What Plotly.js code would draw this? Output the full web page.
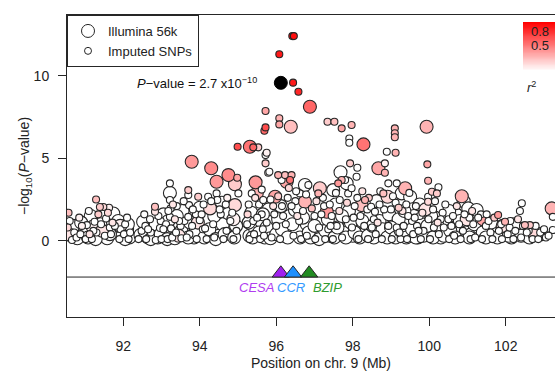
<!DOCTYPE html>
<html><head><meta charset="utf-8">
<script src="https://cdn.plot.ly/plotly-3.0.1.min.js"></script>
<style>html,body{margin:0;padding:0;overflow:hidden;background:#fff;}</style>
</head><body><div id="chart"></div>
<script>
// [position (Mb), -log10(P), r2]
const illumina = [
[90.62,0.35,0.1],[90.80,0.15,0],[90.98,0.55,0],[91.08,0.2,0],[91.15,1.5,0],[91.20,0.85,0.05],[91.33,0.3,0],[91.45,0.6,0.1],[91.58,0.15,0],[91.74,1.65,0],[91.80,0.5,0],[91.87,1.2,0],[91.98,0.3,0],[92.10,0.7,0],[92.16,0.2,0],
[92.45,0.35,0],[92.52,1.15,0],[92.65,0.2,0],[92.78,0.7,0],[92.90,0.2,0],[93.05,1.6,0],[93.10,0.4,0],[93.22,2.9,0],[93.30,0.9,0],[93.45,0.3,0.1],[93.55,1.8,0],[93.62,0.6,0],[93.79,4.79,0.4],[93.85,0.2,0],[93.95,1.1,0.1],[94.05,0.5,0],[94.20,1.3,0],[94.27,1.96,0.15],[94.30,4.39,0.45],[94.44,3.58,0.4],[94.50,0.3,0],[94.60,1.0,0],[94.75,3.98,0.45],[94.75,1.66,0],[94.85,0.4,0],[94.92,3.42,0.2],[94.92,2.16,0.15],[94.95,0.9,0],
[95.30,0.3,0],[95.31,5.7,0.55],[95.35,1.7,0],[95.46,3.54,0.4],[95.49,2.87,0.3],[95.45,0.7,0],[95.60,1.2,0],[95.70,0.2,0],[95.80,1.9,0],[95.97,2.67,0.35],[95.90,0.6,0],[96.05,1.3,0],[96.20,0.3,0],[96.27,3.58,0.35],[96.38,6.91,0.25],[96.35,1.5,0],[96.49,1.86,0],[96.55,0.6,0],[96.75,3.38,0],[96.75,2.36,0.3],[96.80,1.0,0],[96.88,8.12,0.6],[96.90,0.2,0],
[97.05,0.4,0],[97.14,3.18,0.2],[97.20,1.2,0],[97.32,1.76,0.4],[97.40,0.3,0],[97.49,3.07,0],[97.55,2.2,0],[97.62,1.25,0],[97.68,4.15,0],[97.75,0.5,0],[97.84,3.48,0],[97.90,1.8,0],[98.00,0.3,0],[98.10,1.1,0],[98.23,2.16,0.25],[98.28,5.84,0.55],[98.35,0.6,0],[98.45,1.5,0],[98.55,0.2,0],[98.67,4.39,0.35],[98.70,1.2,0],[98.85,0.4,0],[98.91,2.67,0.15],[98.95,1.6,0],
[99.05,0.3,0],[99.20,1.3,0],[99.28,2.87,0],[99.37,3.18,0.3],[99.45,0.5,0],[99.50,2.67,0],[99.60,1.5,0],[99.70,0.2,0],[99.80,1.0,0],[99.93,6.91,0.3],[99.90,1.9,0.1],[100.00,0.4,0],[100.15,1.4,0],[100.30,0.2,0],[100.45,1.0,0],[100.60,0.3,0],[100.70,1.6,0],[100.85,2.7,0.3],[100.90,2.4,0],[100.95,0.5,0],[101.02,1.96,0],
[101.10,0.4,0],[101.24,1.86,0],[101.30,0.8,0],[101.41,1.3,0.35],[101.55,0.3,0],[101.70,0.9,0],[101.85,0.3,0],[102.00,0.7,0],[102.15,0.2,0],[102.30,0.5,0],[102.55,0.3,0],[102.76,0.35,0.15],[102.95,0.4,0],[103.20,1.96,0.3],
[90.70,0.9,0],[90.90,1.1,0],[91.28,0.1,0],[91.40,1.0,0],[91.65,0.4,0],[91.92,0.9,0.05],[92.05,0.1,0],[92.12,1.0,0],
[92.58,0.5,0],[92.72,0.1,0],[92.85,1.0,0],[92.98,0.4,0],[93.15,0.1,0],[93.18,1.2,0],[93.35,0.15,0],[93.40,1.5,0],[93.52,0.6,0],[93.70,0.2,0],[93.75,1.1,0],[93.88,0.5,0],[94.00,2.0,0],[94.12,0.2,0],[94.25,0.7,0],[94.38,1.5,0],[94.42,0.1,0],[94.58,2.3,0],[94.65,0.4,0],[94.88,1.3,0.05],[94.90,0.2,0],
[95.28,1.1,0],[95.38,0.2,0],[95.55,0.5,0],[95.65,1.6,0],[95.75,0.8,0],[95.85,0.15,0],[96.00,0.4,0],[96.12,2.1,0],[96.15,0.7,0],[96.30,0.2,0],[96.42,1.0,0],[96.58,2.0,0],[96.62,0.2,0],[96.70,1.4,0],[96.85,0.5,0],
[97.00,0.9,0],[97.12,0.1,0],[97.28,0.6,0],[97.35,1.3,0],[97.52,0.2,0],[97.60,0.8,0],[97.72,1.5,0],[97.82,0.2,0],[97.95,1.1,0],[98.05,0.5,0],[98.18,0.2,0],[98.25,1.2,0],[98.40,0.3,0],[98.52,0.9,0],[98.62,2.4,0],[98.78,0.7,0],[98.90,0.2,0],
[99.00,0.8,0],[99.12,0.2,0],[99.25,0.6,0],[99.35,1.8,0],[99.40,0.2,0],[99.55,0.7,0],[99.65,0.2,0],[99.75,2.2,0],[99.85,0.3,0],[99.95,0.9,0],[100.05,1.5,0],[100.10,0.2,0],[100.22,0.9,0],[100.38,0.3,0],[100.52,1.8,0],[100.55,0.6,0],[100.68,0.2,0],[100.80,1.2,0],[100.98,1.3,0.1],
[101.05,0.2,0],[101.18,1.0,0],[101.40,0.5,0],[101.48,0.2,0],[101.62,1.1,0],[101.78,0.2,0],[101.92,0.9,0.1],[102.08,0.3,0],[102.22,1.0,0],[102.40,0.3,0],[102.62,0.2,0],[102.85,0.4,0]
];
const imputed = [
[90.55,0.8,0.15],[90.57,1.7,0.25],[90.66,0.05,0],[90.72,0.5,0],[90.78,0.2,0],[90.88,0.4,0],[90.92,0.9,0.05],[91.02,0.1,0],[91.05,0.95,0],[91.12,0.4,0.1],[91.18,0.1,0],[91.25,1.15,0],[91.29,2.5,0.25],[91.30,0.5,0],[91.35,1.6,0.2],[91.39,2.05,0.2],[91.42,1.0,0],[91.48,2.05,0.15],[91.52,0.3,0],[91.55,1.35,0],[91.63,2.0,0.05],[91.65,0.8,0],[91.68,0.4,0],[91.72,1.1,0.1],[91.90,0.1,0],[91.93,0.7,0],[92.02,0.4,0],[92.05,1.0,0],[92.14,0.1,0],[92.18,0.5,0],
[92.40,0.1,0],[92.48,0.6,0],[92.58,0.9,0],[92.60,0.1,0],[92.70,1.3,0],[92.72,0.5,0],[92.83,2.06,0.25],[92.83,1.76,0.1],[92.85,0.05,0],[92.96,0.77,0],[92.98,1.2,0],[93.00,0.1,0],[93.12,1.0,0],[93.16,0.1,0],[93.22,3.48,0],[93.22,2.47,0],[93.24,1.96,0],[93.22,1.45,0],[93.25,0.75,0],[93.28,0.2,0],[93.35,1.3,0.1],[93.38,0.5,0],[93.40,2.1,0],[93.50,0.9,0],[93.52,0.15,0],[93.60,1.2,0],[93.70,3.07,0.2],[93.70,2.77,0],[93.72,2.16,0],[93.70,1.45,0],[93.73,0.4,0],[93.80,0.9,0],[93.90,1.6,0],[93.92,0.1,0],[93.96,2.67,0.2],[94.00,1.25,0],[94.08,0.7,0],[94.10,2.2,0],[94.14,0.75,0],[94.18,0.1,0],[94.22,2.67,0],[94.35,1.0,0],[94.38,0.2,0],[94.44,2.87,0],[94.46,2.47,0],[94.55,1.6,0],[94.62,0.1,0],[94.68,2.2,0],[94.70,0.6,0],[94.80,1.2,0],[94.88,0.1,0],[94.98,3.82,0.35],[95.01,2.87,0],[94.96,0.6,0],
[94.99,5.7,0.7],[95.24,1.0,0],[95.28,2.2,0],[95.30,0.1,0],[95.36,2.87,0],[95.40,5.66,0.6],[95.40,1.2,0],[95.42,0.4,0],[95.53,5.66,0.2],[95.55,2.2,0],[95.58,0.1,0],[95.62,1.6,0],[95.66,2.47,0],[95.65,0.7,0],[95.69,6.67,0.6],[95.72,6.87,0.7],[95.72,7.86,0.35],[95.72,5.19,0],[95.72,4.69,0.2],[95.75,5.33,0.05],[95.79,4.12,0],[95.82,4.18,0],[95.75,1.1,0],[95.85,2.5,0],[95.88,0.2,0],[95.95,1.6,0],[96.00,0.9,0],[96.05,3.98,0.3],[96.08,7.42,0.3],[96.08,7.05,0.35],[96.08,11.3,0.9],[96.10,0.1,0],[96.14,3.68,0],[96.15,2.1,0],[96.23,3.98,0.25],[96.25,1.0,0],[96.30,2.6,0],[96.36,3.68,0.55],[96.40,3.98,0.3],[96.42,12.4,0.95],[96.46,12.4,0.95],[96.44,9.58,0.9],[96.45,0.3,0],[96.50,2.4,0],[96.58,9.03,0.85],[96.60,1.2,0],[96.62,2.87,0],[96.65,0.1,0],[96.70,1.8,0],[96.84,3.38,0],[96.93,1.96,0.25],
[97.00,1.5,0],[97.02,0.1,0],[97.10,2.87,0.3],[97.12,0.8,0],[97.25,2.1,0],[97.28,0.1,0],[97.34,7.21,0.2],[97.36,0.7,0],[97.45,1.5,0],[97.48,0.1,0],[97.52,7.21,0.25],[97.58,0.9,0],[97.62,3.48,0.4],[97.66,2.47,0],[97.71,6.81,0.35],[97.71,3.68,0.3],[97.72,0.2,0],[97.80,3.68,0],[97.82,1.3,0],[97.88,2.87,0],[97.91,6.2,0],[97.91,5.94,0],[97.93,4.69,0.2],[97.97,7.01,0.3],[97.97,3.18,0],[97.98,0.8,0],[98.05,2.1,0],[98.10,3.88,0],[98.12,4.42,0],[98.15,0.1,0],[98.20,1.5,0],[98.32,2.47,0.3],[98.30,0.9,0],[98.38,1.9,0],[98.40,0.1,0],[98.48,2.06,0],[98.50,0.8,0],[98.58,1.76,0],[98.60,0.4,0],[98.65,1.1,0.1],[98.76,0.1,0],[98.80,2.87,0.25],[98.82,1.9,0],[98.84,4.12,0.3],[98.84,4.69,0.05],[98.89,5.39,0],[98.93,3.48,0],[98.93,0.9,0],
[99.00,1.9,0],[99.02,0.1,0],[99.10,6.81,0.3],[99.10,6.51,0.3],[99.10,6.27,0.3],[99.12,5.33,0.3],[99.15,3.48,0],[99.12,2.3,0],[99.15,0.8,0],[99.25,0.1,0],[99.30,1.8,0.1],[99.33,0.9,0],[99.40,2.2,0],[99.42,0.1,0],[99.55,1.2,0],[99.58,0.4,0],[99.65,2.1,0],[99.68,0.9,0],[99.75,1.5,0],[99.78,0.1,0],[99.85,0.6,0],[99.95,4.63,0.35],[99.97,3.64,0.3],[99.97,2.67,0],[99.97,2.36,0.15],[99.98,1.3,0],[100.02,0.1,0],[100.07,2.97,0.2],[100.10,1.9,0],[100.12,0.8,0],[100.20,2.87,0.2],[100.24,3.24,0],[100.22,1.1,0.1],[100.25,0.4,0],[100.35,1.7,0],[100.38,0.8,0],[100.50,1.3,0],[100.52,0.1,0],[100.58,0.9,0],[100.65,0.3,0],[100.78,1.0,0],[100.82,0.1,0],[100.88,0.6,0],
[101.05,1.4,0],[101.08,0.1,0],[101.15,1.0,0],[101.20,0.2,0],[101.35,1.6,0],[101.38,0.1,0],[101.48,0.9,0],[101.50,1.6,0],[101.60,0.5,0],[101.65,0.1,0],[101.80,1.56,0.4],[101.82,0.6,0],[101.90,0.1,0],[101.98,1.15,0.3],[102.05,0.4,0],[102.10,0.8,0],[102.20,0.1,0],[102.25,0.6,0],[102.37,1.8,0],[102.42,2.27,0],[102.40,0.2,0],[102.45,0.9,0],[102.50,0.95,0.25],[102.60,0.6,0],[102.63,0.95,0.2],[102.70,0.1,0],[102.85,0.1,0],[102.90,0.5,0],[103.05,0.2,0],[103.23,1.45,0],[103.23,0.65,0],
[90.60,1.2,0],[90.85,1.4,0.05],[91.10,1.8,0],[91.22,0.6,0],[91.60,1.7,0.15],[91.78,0.9,0],[92.10,1.4,0],
[92.55,1.6,0],[92.65,0.7,0],[92.92,1.5,0],[93.05,0.7,0],[93.18,1.8,0],[93.30,2.2,0.1],[93.46,1.2,0],[93.58,2.4,0],[93.66,0.2,0],[93.82,1.9,0],[94.05,1.6,0],[94.30,2.4,0],[94.52,1.9,0],[94.72,2.6,0.05],[94.85,1.7,0],
[95.25,1.6,0.15],[95.45,2.6,0.1],[95.50,1.4,0],[95.62,3.1,0],[95.68,0.3,0],[95.92,2.1,0.1],[96.05,2.7,0.2],[96.18,1.5,0],[96.33,3.2,0.15],[96.40,2.1,0],[96.52,3.0,0],[96.55,1.5,0.1],[96.78,2.8,0],[96.80,0.3,0],
[97.05,2.4,0.1],[97.18,1.6,0],[97.22,2.6,0],[97.40,2.2,0],[97.42,0.9,0],[97.56,2.9,0],[97.65,1.8,0.1],[97.85,2.3,0.15],[98.02,1.4,0],[98.12,2.6,0],[98.25,3.0,0.1],[98.42,2.6,0.2],[98.55,1.3,0],[98.70,2.2,0],[98.72,3.0,0],
[99.05,2.7,0],[99.20,2.0,0.2],[99.22,0.5,0],[99.45,1.5,0],[99.48,2.9,0],[99.62,1.4,0],[99.72,0.6,0],[99.82,1.7,0.1],[100.15,2.4,0],[100.30,1.3,0],[100.42,2.2,0],[100.62,1.5,0],[100.72,2.1,0.1],[100.92,1.6,0],
[101.12,1.8,0.1],[101.28,1.4,0],[101.55,1.2,0],[101.70,1.4,0.2],[101.88,1.0,0],[102.12,1.2,0],[102.32,1.3,0.1],[102.55,0.5,0],[102.78,0.9,0],[103.00,0.7,0],[103.12,0.3,0]
];
const leadPos = [96.12];
const leadLogP = [9.57];
const leadLabel = '<i>P</i>\u2212value = 2.7 x10<sup>\u221210</sup>';
const geneNames = ['CESA','CCR','BZIP'];
const genePos = [96.12, 96.44, 96.86];
const geneColors = ['#A020F0','#1E90FF','#228B22'];
const geneTextColors = ['#B03CF0','#3399FF','#2E9B2E'];
const geneTrackY = -2.2;
const xTicks = [92,94,96,98,100,102];
const yTicks = [0,5,10];
const r2Levels = [0,0.05,0.1,0.15,0.2,0.25,0.3,0.35,0.4,0.45,0.5,0.55,0.6,0.65,0.7,0.75,0.8,0.85,0.9,0.95,1];
const r2Labels = [0.8, 0.5];

const cs = [[0,'#FFFFFF'],[1,'#FF0000']];
const W = 580, H = 371, M = {l:67, r:5, t:15, b:54};
const yRange = [-4.62, 13.68];
const xRange = [90.53, 103.81];
const pxPerUnit = (H - M.t - M.b) / (yRange[1] - yRange[0]);
const triSize = 15;

function sorted(a){ return a.slice().sort((p,q)=>p[2]-q[2]); }
const bigS = sorted(illumina), smS = sorted(imputed);
const lineCol = '#262626';

const traces = [
 {type:'scatter', mode:'markers', name:'Illumina 56k', x:[null], y:[null],
  marker:{size:13, color:'#fff', line:{color:lineCol, width:1}}, hoverinfo:'skip'},
 {type:'scatter', mode:'markers', name:'Imputed SNPs', x:[null], y:[null],
  marker:{size:7, color:'#fff', line:{color:lineCol, width:1}}, hoverinfo:'skip'},
 {type:'scatter', mode:'markers', showlegend:false, x:bigS.map(d=>d[0]), y:bigS.map(d=>d[1]),
  marker:{size:13, color:bigS.map(d=>d[2]), colorscale:cs, cmin:0, cmax:1, line:{color:lineCol, width:1.1}}, hoverinfo:'skip'},
 {type:'scatter', mode:'markers', showlegend:false, x:smS.map(d=>d[0]), y:smS.map(d=>d[1]),
  marker:{size:7, color:smS.map(d=>d[2]), colorscale:cs, cmin:0, cmax:1, line:{color:lineCol, width:1.1}}, hoverinfo:'skip'},
 {type:'scatter', mode:'markers', showlegend:false, x:leadPos, y:leadLogP,
  marker:{size:13, color:'#000', line:{color:'#000', width:1}}, hoverinfo:'skip'},
 {type:'scatter', mode:'markers', showlegend:false, x:genePos, y:genePos.map(()=>geneTrackY + (triSize/4)/pxPerUnit),
  marker:{symbol:'triangle-up', size:triSize, color:geneColors, line:{color:lineCol, width:1}}, cliponaxis:false, hoverinfo:'skip'},
 {type:'heatmap', xaxis:'x2', yaxis:'y2', x:[0,1], y:r2Levels, z:r2Levels.map(v=>[v,v]),
  colorscale:cs, zmin:0, zmax:1, showscale:false, zsmooth:'best', hoverinfo:'skip'}
];

const geneShift = [-24, -2, 18];
const annotations = [
 {x:leadPos[0], y:leadLogP[0], xref:'x', yref:'y', text:leadLabel, showarrow:false, xanchor:'right', xshift:-22, font:{size:13, color:'#111'}},
 ...geneNames.map((g,i)=>({x:genePos[i], y:geneTrackY, xref:'x', yref:'y', text:'<i>'+g+'</i>', showarrow:false, yanchor:'top', xshift:geneShift[i], yshift:-1, font:{size:13, color:geneTextColors[i]}})),
 ...r2Labels.map(v=>({x:0.4, y:v, xref:'x2', yref:'y2', text:v.toFixed(1), showarrow:false, font:{size:13, color:'#222'}})),
 {x:0.927, y:0.795, xref:'paper', yref:'paper', text:'<i>r</i><sup>2</sup>', showarrow:false, font:{size:13, color:'#222'}}
];

const layout = {
 width:W, height:H, margin:M,
 paper_bgcolor:'#fff', plot_bgcolor:'rgba(0,0,0,0)',
 font:{family:'"Liberation Sans", Arial, sans-serif', size:14, color:'#222'},
 showlegend:true,
 legend:{x:0, y:1, xanchor:'left', yanchor:'top', bgcolor:'#fff', bordercolor:lineCol, borderwidth:1, font:{size:13, color:'#222'}, tracegroupgap:0},
 xaxis:{range:xRange, tickvals:xTicks, ticktext:xTicks.map(String), ticks:'outside', ticklen:8, tickwidth:1, tickcolor:lineCol,
  showline:true, mirror:true, linecolor:lineCol, linewidth:1, showgrid:false, zeroline:false, ticklabelstandoff:8,
  title:{text:'Position on chr. 9 (Mb)', standoff:12, font:{size:14}}},
 yaxis:{range:yRange, tickvals:yTicks, ticktext:yTicks.map(String), ticks:'outside', ticklen:8, tickwidth:1, tickcolor:lineCol,
  showline:true, mirror:true, linecolor:lineCol, linewidth:1, showgrid:false, zeroline:false, ticklabelstandoff:6,
  title:{text:'\u2212log<sub>10</sub>(<i>P</i>\u2212value)', standoff:0, font:{size:14}}},
 xaxis2:{domain:[0.8976,0.98], range:[0,1], visible:false, anchor:'y2', fixedrange:true},
 yaxis2:{domain:[0.8179,0.9768], range:[0,1], visible:false, anchor:'x2', fixedrange:true},
 shapes:[{type:'line', xref:'paper', x0:0, x1:1, yref:'y', y0:geneTrackY, y1:geneTrackY, line:{color:lineCol, width:1}, layer:'below'}],
 annotations:annotations
};
Plotly.newPlot('chart', traces, layout, {staticPlot:true, displayModeBar:false});
</script></body></html>
